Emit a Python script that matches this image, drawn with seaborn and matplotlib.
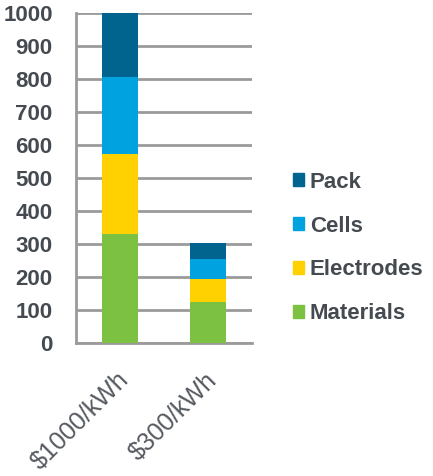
import matplotlib
matplotlib.use("Agg")
import matplotlib.pyplot as plt
import matplotlib.transforms as mtransforms
from matplotlib.patches import Patch
from matplotlib.ticker import FixedLocator
import pandas as pd
import seaborn as sns

# data
categories = ['$1000/kWh', '$300/kWh']
materials = [330, 123]
electrodes = [242, 72]
cells = [233, 60]
pack = [195, 47]

series_names = ['Materials', 'Electrodes', 'Cells', 'Pack']
series_vals = [materials, electrodes, cells, pack]
colors = ['#7DC142', '#FFD100', '#00A3E0', '#00648F']

sns.set_style('white')
plt.rcParams['font.family'] = ['Liberation Sans', 'DejaVu Sans']

fig = plt.figure(figsize=(4.33, 4.76), dpi=100)
ax = fig.add_axes([76/433, 1 - 343/476, (252 - 76)/433, (343 - 13)/476])

# cumulative totals, draw tallest first so lower layers sit on top
cum = []
running = [0, 0]
for vals in series_vals:
    running = [r + v for r, v in zip(running, vals)]
    cum.append(running)

for name, tot, col in reversed(list(zip(series_names, cum, colors))):
    df = pd.DataFrame({'cat': categories, 'val': tot})
    sns.barplot(data=df, x='cat', y='val', color=col, width=0.4,
                saturation=1, ax=ax, zorder=3, linewidth=0)

grid_col = '#9a9a9a'
ax.set_ylim(0, 1000)
ax.set_xlim(-0.5, 1.5)
ax.set_yticks(range(0, 1001, 100))
ax.yaxis.grid(True, color=grid_col, linewidth=2, zorder=0)
ax.set_axisbelow(True)
for s in ['top', 'right']:
    ax.spines[s].set_visible(False)
for s in ['left', 'bottom']:
    ax.spines[s].set_color(grid_col)
    ax.spines[s].set_linewidth(2)

ax.set_xlabel('')
ax.set_ylabel('')
ax.tick_params(axis='y', length=5.8, width=2, color=grid_col, labelsize=16,
               labelcolor='#444a50', pad=11)
for lab in ax.get_yticklabels():
    lab.set_fontweight('bold')

ax.xaxis.set_minor_locator(FixedLocator([-0.5, 0.5, 1.5]))
ax.tick_params(axis='x', which='major', length=0, labelsize=18,
               labelcolor='#555a60', pad=24)
ax.tick_params(axis='x', which='minor', length=6, width=2, color=grid_col)
shift = mtransforms.ScaledTranslation(5/100, 0, fig.dpi_scale_trans)
for lab in ax.get_xticklabels():
    lab.set_rotation(45)
    lab.set_ha('right')
    lab.set_va('center')
    lab.set_rotation_mode('anchor')
    lab.set_transform(lab.get_transform() + shift)

handles = [Patch(color=c, label=n) for n, c in zip(series_names, colors)][::-1]
leg = fig.legend(handles=handles, loc='center left',
                 bbox_to_anchor=(273/433, 1 - 248/476), frameon=False,
                 prop={'size': 16, 'weight': 'bold'}, labelspacing=1.03,
                 handlelength=0.5, handleheight=0.5, handletextpad=0.25)
for t in leg.get_texts():
    t.set_color('#444a50')

fig.savefig('out.png', dpi=100)
